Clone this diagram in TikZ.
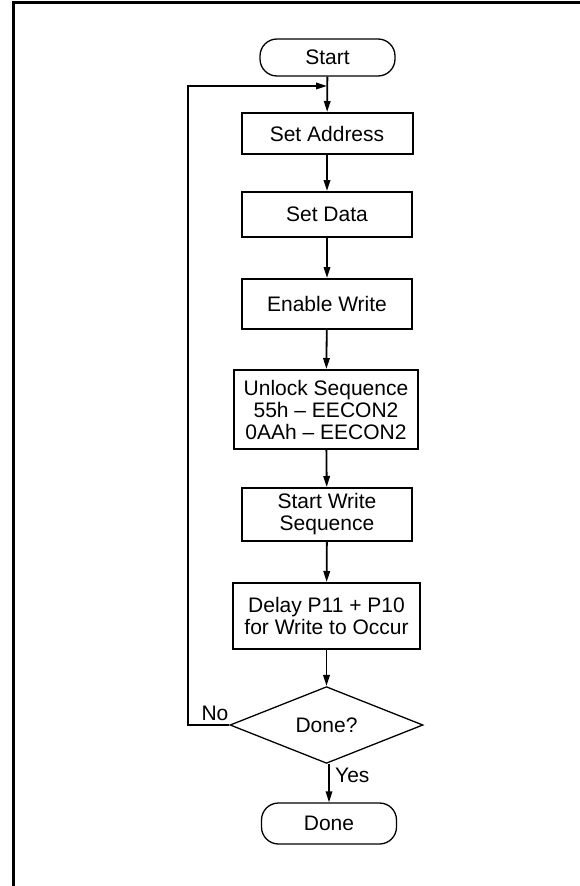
\documentclass[tikz,border=0pt]{standalone}
\usepackage{fontspec}
\setmainfont{Liberation Sans}
\usepackage{tikz}
\usetikzlibrary{arrows.meta,shapes,positioning}
\tikzstyle{arrow} = [line width=1.8pt,-{Triangle[length=11pt,width=6.5pt]}]
\tikzstyle{terminal} = [draw,line width=1.3pt,rounded corners=17pt,minimum width=135pt,inner sep=0pt]
\tikzstyle{process} = [draw,line width=2pt,align=center,inner sep=0pt]
\tikzstyle{decision} = [draw,diamond,line width=1.3pt,inner sep=0pt,minimum width=193pt,minimum height=72pt]

\begin{document}
\begin{tikzpicture}[x=1pt,y=-1pt,font=\fontsize{21}{22}\selectfont]
\useasboundingbox (0,0) rectangle (580,886);
% Frame
\draw[line width=2.7pt] (13.6,886) -- (13.6,2.3) -- (580,2.3);

% Steps
\node[terminal,minimum height=37pt] (start) at (327.5,57.5) {Start};
\node[process,minimum width=171pt,minimum height=41pt] (setaddr) at (327,133.5) {Set Address};
\node[process,minimum width=170pt,minimum height=45pt] (setdata) at (327,214.5) {Set Data};
\node[process,minimum width=170pt,minimum height=50pt] (enable) at (327,304) {Enable Write};
\node[process,minimum width=184pt,minimum height=79pt] (unlock) at (326,409.5) {Unlock Sequence\\55h -- EECON2\\0AAh -- EECON2};
\node[process,minimum width=170pt,minimum height=53pt] (startwr) at (327,514.5) {Start Write\\Sequence};
\node[process,minimum width=187pt,minimum height=66pt] (delay) at (326.5,616) {Delay P11 + P10\\for Write to Occur};
\node[decision] (check) at (326.5,725) {Done?};
\node[terminal,minimum height=41pt] (finish) at (329,823.5) {Done};
\coordinate (join) at (327,86);

% Connectors
\draw[arrow] (start) -- (setaddr);
\draw[arrow] (setaddr) -- (setdata);
\draw[arrow] (setdata) -- (enable);
\draw[arrow] (enable) -- (unlock);
\draw[arrow] (unlock) -- (startwr);
\draw[arrow] (startwr) -- (delay);
\draw[arrow] (delay) -- (check);
\draw[arrow] (check.south -| finish.north) -- (finish.north);
\draw[arrow] (check.west) -- ++(-41,0) |- (join);

% Labels
\node (nolbl) at (215,713) {No};
\node[anchor=west,inner sep=0pt] (yeslbl) at (335,775) {Yes};
\end{tikzpicture}
\end{document}
